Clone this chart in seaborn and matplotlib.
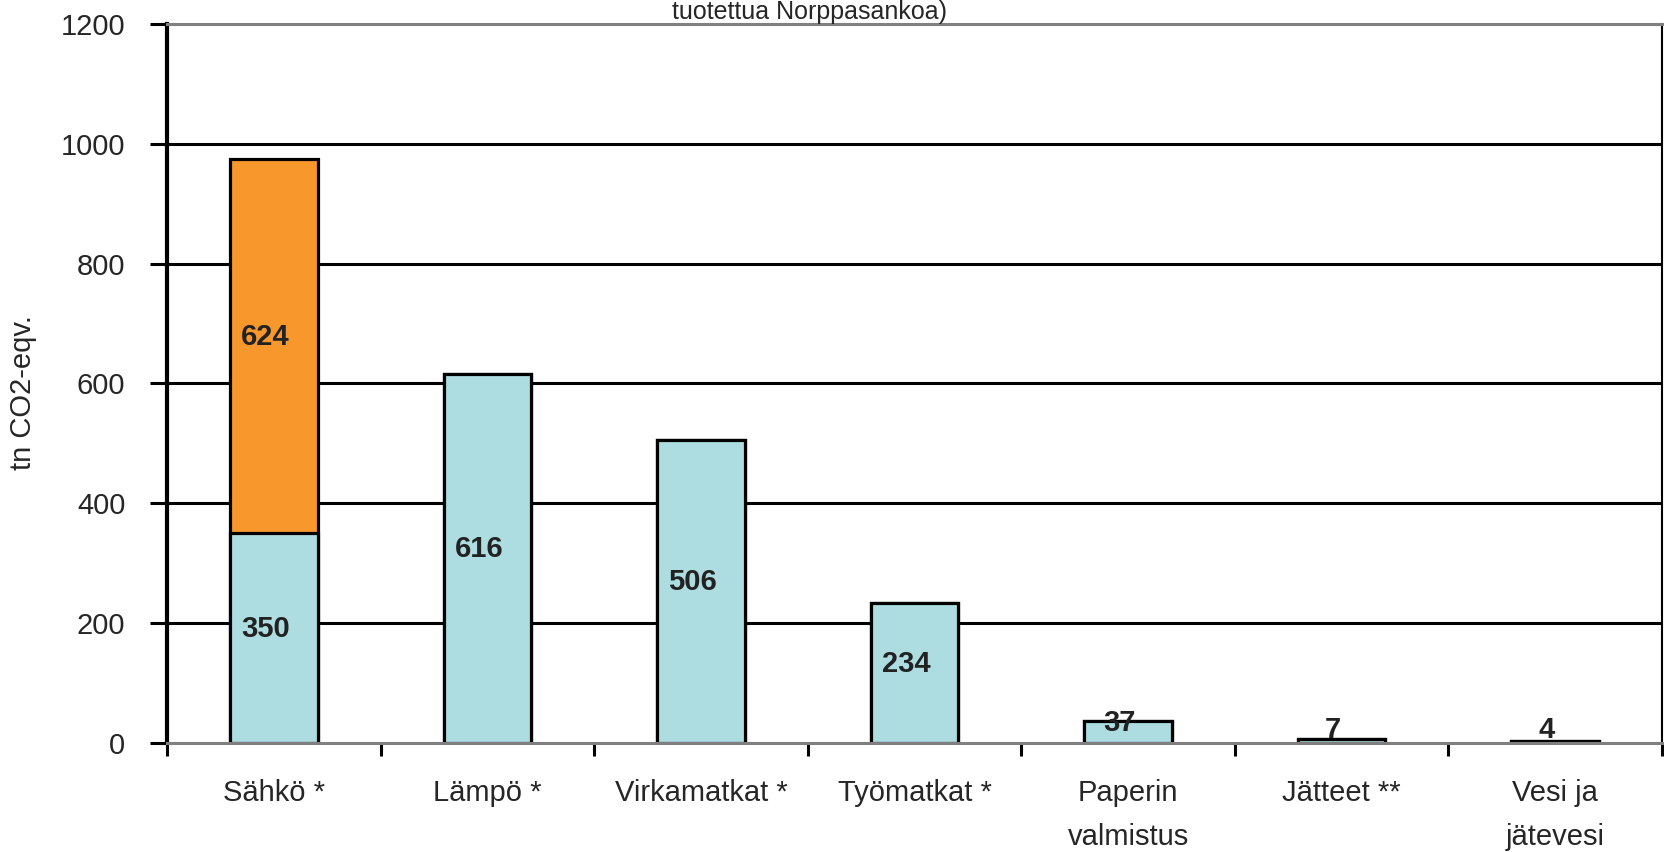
import numpy as np
import pandas as pd
import matplotlib
matplotlib.use("Agg")
import matplotlib.pyplot as plt
from matplotlib.ticker import FixedLocator, NullFormatter
import seaborn as sns

# data
categories = ["Sähkö *", "Lämpö *", "Virkamatkat *", "Työmatkat *",
              "Paperin\nvalmistus", "Jätteet **", "Vesi ja\njätevesi"]
base_vals = [350, 616, 506, 234, 37, 7, 4]
extra_vals = [624, 0, 0, 0, 0, 0, 0]
y_ticks = [0, 200, 400, 600, 800, 1000, 1200]

BLUE = "#addde1"
ORANGE = "#f8982c"

sns.set_style("white")
plt.rcParams['font.family'] = ['Liberation Sans', 'DejaVu Sans']
plt.rcParams['font.size'] = 21

df = pd.DataFrame({"cat": categories, "base": base_vals, "extra": extra_vals})
df["total"] = df["base"] + df["extra"]

fig = plt.figure(figsize=(16.65, 8.52), dpi=100)
ax = fig.add_axes([167 / 1665, 109 / 852, 1495 / 1665, 719 / 852])

# stacked: totals (orange) underneath, base (blue) on top
sns.barplot(data=df, x="cat", y="total", color=ORANGE, saturation=1, width=0.41,
            edgecolor="black", linewidth=2.3, ax=ax)
sns.barplot(data=df, x="cat", y="base", color=BLUE, saturation=1, width=0.41,
            edgecolor="black", linewidth=2.3, ax=ax)

ax.set_xlim(-0.5, len(categories) - 0.5)
ax.set_ylim(0, 1200)
ax.set_yticks(y_ticks)
ax.set_axisbelow(True)
ax.yaxis.grid(True, color="black", linewidth=2.2)
gl = ax.yaxis.get_gridlines()
gl[0].set_color("#808080")
gl[-1].set_color("#808080")

for s in ["top", "left", "right", "bottom"]:
    ax.spines[s].set_visible(True)
ax.spines["top"].set_color("#808080")
ax.spines["top"].set_linewidth(2.2)
ax.spines["bottom"].set_color("#808080")
ax.spines["bottom"].set_linewidth(2.2)
ax.spines["left"].set_color("black")
ax.spines["left"].set_linewidth(3)
ax.spines["right"].set_color("black")
ax.spines["right"].set_linewidth(1.5)

ax.tick_params(axis="y", which="major", length=12, width=2.2, color="black",
               pad=18, labelsize=21, left=True)
ax.tick_params(axis="x", which="major", length=0, pad=26, labelsize=21)
ax.xaxis.set_minor_locator(FixedLocator(np.arange(-0.5, len(categories), 1.0)))
ax.xaxis.set_minor_formatter(NullFormatter())
ax.tick_params(axis="x", which="minor", length=9, width=2.2, color="black", bottom=True)
for lab in ax.get_xticklabels():
    lab.set_linespacing(1.7)
    lab.set_verticalalignment("top")

ax.set_xlabel("")
ax.set_ylabel("")
fig.text(23 / 1665, 1 - 393 / 852, "tn CO2-eqv.", rotation=90, ha="center", va="center",
         fontsize=21)
fig.text(810 / 1665, 1 - 19 / 852, "tuotettua Norppasankoa)", ha="center", va="baseline",
         fontsize=18)

# value labels
for i, row in df.iterrows():
    segs = [(0, row["base"])]
    if row["extra"] > 0:
        segs.append((row["base"], row["extra"]))
    for bottom, h in segs:
        yc = max(bottom + h / 2, 7)
        ax.annotate(f"{h}", (i - 0.04, yc), xytext=(0, 6.5), textcoords="offset points",
                    ha="center", va="center", fontsize=21, fontweight="bold", color="#222222")

fig.savefig("out.png", dpi=100)
